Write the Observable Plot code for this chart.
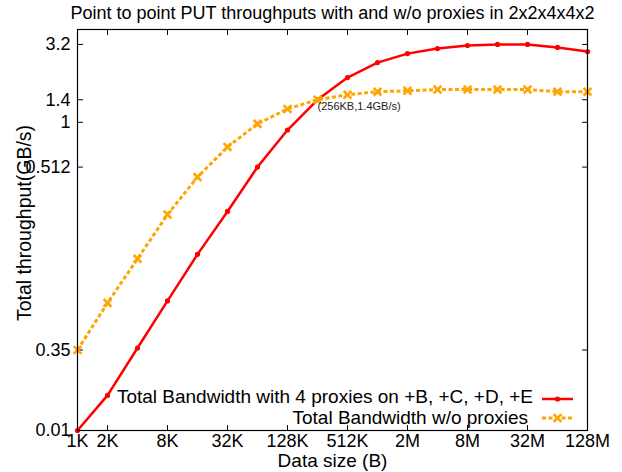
<!DOCTYPE html>
<html><head><meta charset="utf-8">
<script src="https://cdn.jsdelivr.net/npm/d3@7"></script>
<script src="https://cdn.jsdelivr.net/npm/@observablehq/plot@0.6"></script>
<style>body{margin:0;background:#fff} svg{display:block}</style>
</head><body><div id="chart"></div>
<script>
const sizes = [1024, 2048, 4096, 8192, 16384, 32768, 65536, 131072, 262144, 524288, 1048576, 2097152, 4194304, 8388608, 16777216, 33554432, 67108864, 134217728];
const withProxies = [0.010, 0.0169, 0.0343, 0.0693, 0.139, 0.264, 0.512, 0.891, 1.40, 1.95, 2.44, 2.79, 3.01, 3.15, 3.20, 3.20, 3.06, 2.88];
const withoutProxies = [0.0333, 0.0673, 0.130, 0.252, 0.441, 0.692, 0.977, 1.22, 1.40, 1.51, 1.58, 1.60, 1.63, 1.63, 1.63, 1.63, 1.58, 1.58];
const xTickValues = [1024, 2048, 8192, 32768, 131072, 524288, 2097152, 8388608, 33554432, 134217728];
const xTickLabels = ["1K", "2K", "8K", "32K", "128K", "512K", "2M", "8M", "32M", "128M"];
const yTickValues = [0.01, 0.0333, 0.512, 1, 1.4, 3.2];
const yTickLabels = ["0.01", "0.35", "0.512", "1", "1.4", "3.2"];
const seriesNames = ["Total Bandwidth with 4 proxies on +B, +C, +D, +E", "Total Bandwidth w/o proxies"];
const seriesColors = ["#ff0000", "#ffa500"];
const titleText = "Point to point PUT throughputs with and w/o proxies in 2x2x4x4x2";
const xLabel = "Data size (B)";
const yLabel = "Total throughput(GB/s)";
const annotation = [{x: 262144, y: 1.4, text: "(256KB,1.4GB/s)"}];

const red = sizes.map((s, i) => ({x: s, y: withProxies[i]}));
const orange = sizes.map((s, i) => ({x: s, y: withoutProxies[i]}));
const xTicks = xTickValues.map((v, i) => ({v, label: xTickLabels[i]}));
const yTicks = yTickValues.map((v, i) => ({v, label: yTickLabels[i]}));

const tickShape = {draw(context, l) { context.moveTo(0, 0); context.lineTo(0, -l); }};
const font = "'Liberation Sans', Arial, Helvetica, sans-serif";

const plot = Plot.plot({
  width: 622,
  height: 472,
  marginLeft: 77,
  marginRight: 35,
  marginTop: 29,
  marginBottom: 42,
  style: {fontFamily: font, fontSize: "18px", color: "#000", background: "#fff"},
  x: {type: "log", base: 2, domain: [1024, 134217728], axis: null},
  y: {type: "log", domain: [0.01, 4], axis: null},
  marks: [
    Plot.text(xTicks, {x: "v", text: "label", frameAnchor: "bottom", lineAnchor: "middle", dy: 11, fontSize: 18, fill: "#000"}),
    Plot.text(yTicks, {y: "v", text: "label", frameAnchor: "left", textAnchor: "end", lineAnchor: "middle", dx: -7, fontSize: 18, fill: "#000"}),
    Plot.vectorX(xTickValues, {x: (d) => d, frameAnchor: "bottom", length: 5, rotate: 0, anchor: "start", shape: tickShape, stroke: "#000", strokeWidth: 1}),
    Plot.vectorX(xTickValues, {x: (d) => d, frameAnchor: "top", length: 5, rotate: 180, anchor: "start", shape: tickShape, stroke: "#000", strokeWidth: 1}),
    Plot.vectorY(yTickValues, {y: (d) => d, frameAnchor: "left", length: 5, rotate: 90, anchor: "start", shape: tickShape, stroke: "#000", strokeWidth: 1}),
    Plot.vectorY(yTickValues, {y: (d) => d, frameAnchor: "right", length: 5, rotate: -90, anchor: "start", shape: tickShape, stroke: "#000", strokeWidth: 1}),
    Plot.line(red, {x: "x", y: "y", stroke: seriesColors[0], strokeWidth: 2.5}),
    Plot.dot(red, {x: "x", y: "y", r: 2.6, fill: seriesColors[0]}),
    Plot.line(orange, {x: "x", y: "y", stroke: seriesColors[1], strokeWidth: 3, strokeDasharray: "4,2.5", strokeLinecap: "butt"}),
    Plot.dot(orange, {x: "x", y: "y", r: 3.6, symbol: "times", stroke: seriesColors[1], strokeWidth: 2.6}),
    Plot.text(annotation, {x: "x", y: "y", text: "text", textAnchor: "start", lineAnchor: "middle", dy: 7, fontSize: 11, fill: "#222"}),
    Plot.frame({stroke: "#000", strokeWidth: 1.2}),
    Plot.text([titleText], {frameAnchor: "top", lineAnchor: "middle", dy: -16, fontSize: 18, fill: "#000"}),
    Plot.text([xLabel], {frameAnchor: "bottom", lineAnchor: "middle", dy: 30, fontSize: 19, fill: "#000"}),
    Plot.text([yLabel], {frameAnchor: "left", textAnchor: "middle", lineAnchor: "middle", dx: -53, dy: -7, rotate: -90, fontSize: 19.5, fill: "#000"})
  ]
});
document.getElementById("chart").appendChild(plot);

// Legend inside the plot, lower right
const svg = d3.select(plot);
const lg = svg.append("g").attr("font-family", font).attr("font-size", 19);
const legendText = [{x: 533, y: 396.5}, {x: 528, y: 417}];
const legendLineY = [399, 418];
seriesNames.forEach((name, i) => {
  const y = legendLineY[i];
  lg.append("text").attr("x", legendText[i].x).attr("y", legendText[i].y).attr("dy", "0.35em").attr("text-anchor", "end").attr("fill", "#000").text(name);
  const ln = lg.append("line").attr("x1", 542).attr("x2", 573).attr("y1", y).attr("y2", y)
    .attr("stroke", seriesColors[i]).attr("stroke-width", i === 0 ? 2.5 : 3);
  if (i === 1) ln.attr("stroke-dasharray", "4,2.5");
  if (i === 0) {
    lg.append("circle").attr("cx", 557.5).attr("cy", y).attr("r", 2.6).attr("fill", seriesColors[0]);
  } else {
    lg.append("path").attr("transform", `translate(557.5,${y})`).attr("d", d3.symbol(d3.symbolTimes, Math.PI * 3.6 * 3.6)())
      .attr("fill", "none").attr("stroke", seriesColors[1]).attr("stroke-width", 2.6);
  }
});
</script>
</body></html>
